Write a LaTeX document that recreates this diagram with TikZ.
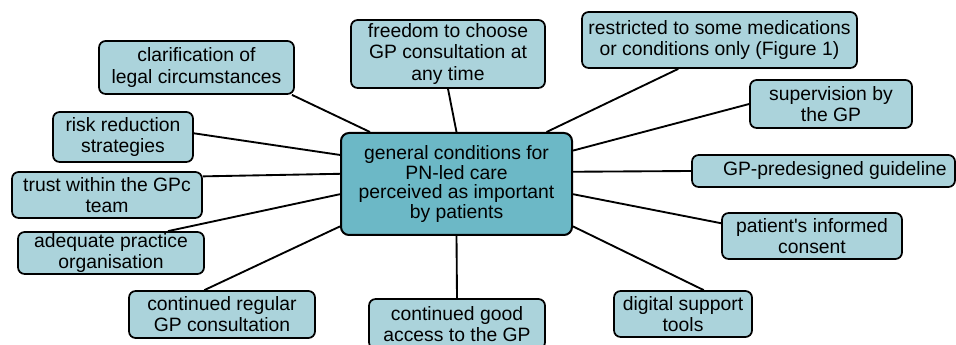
\documentclass[tikz,border=0pt]{standalone}
\usepackage{fontspec}
\setmainfont{Liberation Sans}
\definecolor{leafblue}{HTML}{ABD3DB}
\definecolor{hubblue}{HTML}{6CB8C6}
\tikzset{boxsize/.style 2 args={minimum width=#1*0.75pt, minimum height=#2*0.75pt}}

\begin{document}
\begin{tikzpicture}[x=0.75pt,y=-0.75pt,
		leaf/.style={draw, fill=leafblue, rounded corners=5pt, line width=1.3pt, align=center, inner sep=1pt, font=\fontsize{14.5}{15.8}\selectfont},
		hub/.style={draw, fill=hubblue, rounded corners=6pt, line width=1.5pt, align=center, inner sep=1pt, font=\fontsize{14.5}{14.8}\selectfont},
		link/.style={line width=1.4pt}]
	\clip (0,0) rectangle (956,345);

	\node[hub, boxsize={231}{102}] (hub) at (456.5,184) {general conditions for\\PN-led care\\perceived as important\\by patients};

	% left side
	\node[leaf, boxsize={195}{53}] (clar) at (196.5,67.5) {clarification of\\legal circumstances};
	\node[leaf, boxsize={140}{50}] (risk) at (123,137) {risk reduction\\strategies};
	\node[leaf, boxsize={190}{46}] (trust) at (107,195) {trust within the GPc\\team};
	\node[leaf, boxsize={186}{42}] (adeq) at (111,253) {adequate practice\\organisation};
	\node[leaf, boxsize={186}{47}] (regular) at (222,314.5) {continued regular\\GP consultation};

	% top and bottom
	\node[leaf, boxsize={194}{68}] (freedom) at (448,54) {freedom to choose\\GP consultation at\\any time};
	\node[leaf, boxsize={176}{50}] (access) at (457,324) {continued good\\access to the GP};

	% right side
	\node[leaf, boxsize={275}{56}] (restr) at (719.5,40) {restricted to some medications\\or conditions only (Figure 1)};
	\node[leaf, boxsize={162}{48}] (superv) at (831,104) {supervision by\\the GP};
	\node[leaf, boxsize={263}{32}] (guide) at (823.5,171) {\hspace*{17pt}GP-predesigned guideline};
	\node[leaf, boxsize={180}{46}] (consent) at (812,236) {patient\textquotesingle s informed\\consent};
	\node[leaf, boxsize={138}{46}] (digital) at (683,314) {digital support\\tools};

	\draw[link] (hub.149) -- (clar.-16); % clarification
	\draw[link] (hub.166) -- (risk.3); % risk
	\draw[link] (hub.175) -- (trust.11); % trust
	\draw[link] (hub.185.4) -- (adeq.21); % practice
	\draw[link] (hub.200.4) -- (regular.126); % regular consultation
	\draw[link] (hub.north) -- (freedom.south); % freedom
	\draw[link] (hub.south) -- (access.north); % access
	\draw[link] (hub.30) -- (restr.215); % restricted
	\draw[link] (hub.16.4) -- (superv.west); % supervision
	\draw[link] (hub.6.4) -- (guide.west); % guideline
	\draw[link] (hub.-5.9) -- (consent.172.4); % consent
	\draw[link] (hub.-20) -- (digital.49); % digital tools
\end{tikzpicture}
\end{document}
